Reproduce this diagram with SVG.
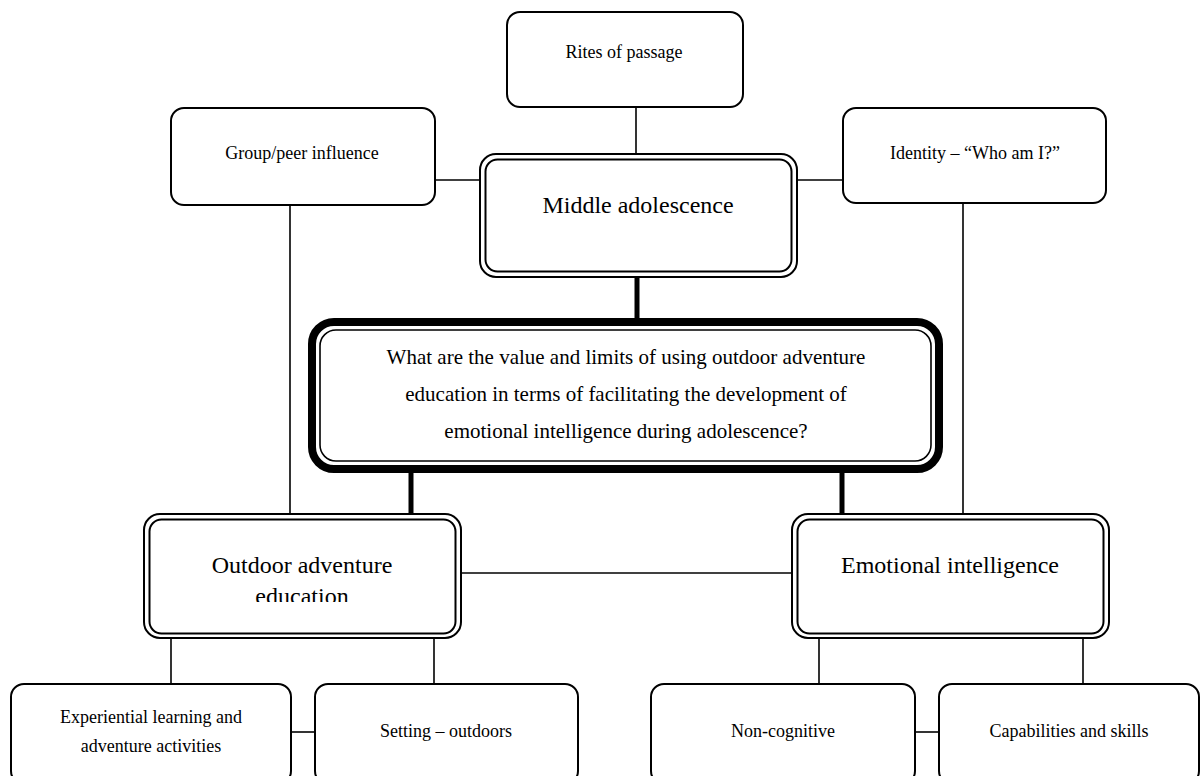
<svg xmlns="http://www.w3.org/2000/svg" width="1202" height="776" viewBox="0 0 1202 776">
<defs>
<style>
.box{fill:#fff;stroke:#000;stroke-width:2}
.dbl{fill:#fff;stroke:#000;stroke-width:2}
.thin{stroke:#000;stroke-width:1.6;fill:none}
.thick{stroke:#000;stroke-width:5;fill:none}
text{font-family:"Liberation Serif","Times New Roman",serif;fill:#000;text-anchor:middle}
.s{font-size:18px}
.m{font-size:24px}
.q{font-size:21px}
</style>
<clipPath id="clipOut"><rect x="140" y="510" width="330" height="92"/></clipPath>
</defs>
<rect width="1202" height="776" fill="#fff"/>
<g id="connectors">
<line class="thin" x1="636" y1="107" x2="636" y2="154"/>
<line class="thin" x1="435" y1="180" x2="480" y2="180"/>
<line class="thin" x1="797" y1="180" x2="843" y2="180"/>
<line class="thin" x1="290" y1="205" x2="290" y2="514"/>
<line class="thin" x1="963" y1="203" x2="963" y2="514"/>
<line class="thick" x1="637" y1="277" x2="637" y2="319"/>
<line class="thick" x1="411" y1="472" x2="411" y2="514"/>
<line class="thick" x1="842" y1="472" x2="842" y2="514"/>
<line class="thin" x1="461" y1="573" x2="792" y2="573"/>
<line class="thin" x1="171" y1="638" x2="171" y2="684"/>
<line class="thin" x1="434" y1="638" x2="434" y2="684"/>
<line class="thin" x1="819" y1="638" x2="819" y2="684"/>
<line class="thin" x1="1083" y1="638" x2="1083" y2="684"/>
<line class="thin" x1="291" y1="732" x2="315" y2="732"/>
<line class="thin" x1="915" y1="732" x2="939" y2="732"/>
</g>
<g id="rites">
<rect class="box" x="507" y="12" width="236" height="95" rx="13"/>
<text class="s" x="624" y="58">Rites of passage</text>
</g>
<g id="group">
<rect class="box" x="171" y="108" width="264" height="97" rx="13"/>
<text class="s" x="302" y="159">Group/peer influence</text>
</g>
<g id="identity">
<rect class="box" x="843" y="108" width="263" height="95" rx="13"/>
<text class="s" x="975" y="159">Identity – “Who am I?”</text>
</g>
<g id="middle">
<rect class="dbl" x="480" y="154" width="317" height="123" rx="16"/>
<rect class="dbl" x="485.5" y="159.5" width="306" height="112" rx="12"/>
<text class="m" x="638" y="213">Middle adolescence</text>
</g>
<g id="question">
<rect x="312" y="322" width="627" height="147" rx="22" fill="#fff" stroke="#000" stroke-width="8"/>
<rect x="320" y="330" width="611" height="131" rx="16" fill="none" stroke="#000" stroke-width="1.6"/>
<text class="q" x="626" y="364">What are the value and limits of using outdoor adventure</text>
<text class="q" x="626" y="401">education in terms of facilitating the development of</text>
<text class="q" x="626" y="438">emotional intelligence during adolescence?</text>
</g>
<g id="outdoor">
<rect class="dbl" x="144" y="514" width="317" height="124" rx="16"/>
<rect class="dbl" x="149.5" y="519.5" width="306" height="114" rx="12"/>
<g clip-path="url(#clipOut)">
<text class="m" x="302" y="573">Outdoor adventure</text>
<text class="m" x="302" y="604">education</text>
</g>
</g>
<g id="emotional">
<rect class="dbl" x="792" y="514" width="317" height="124" rx="16"/>
<rect class="dbl" x="797.5" y="519.5" width="306" height="114" rx="12"/>
<text class="m" x="950" y="573">Emotional intelligence</text>
</g>
<g id="experiential">
<rect class="box" x="11" y="684" width="280" height="100" rx="13"/>
<text class="s" x="151" y="723">Experiential learning and</text>
<text class="s" x="151" y="752">adventure activities</text>
</g>
<g id="setting">
<rect class="box" x="315" y="684" width="263" height="100" rx="13"/>
<text class="s" x="446" y="737">Setting – outdoors</text>
</g>
<g id="noncog">
<rect class="box" x="651" y="684" width="264" height="100" rx="13"/>
<text class="s" x="783" y="737">Non-cognitive</text>
</g>
<g id="capabilities">
<rect class="box" x="939" y="684" width="260" height="100" rx="13"/>
<text class="s" x="1069" y="737">Capabilities and skills</text>
</g>
</svg>
